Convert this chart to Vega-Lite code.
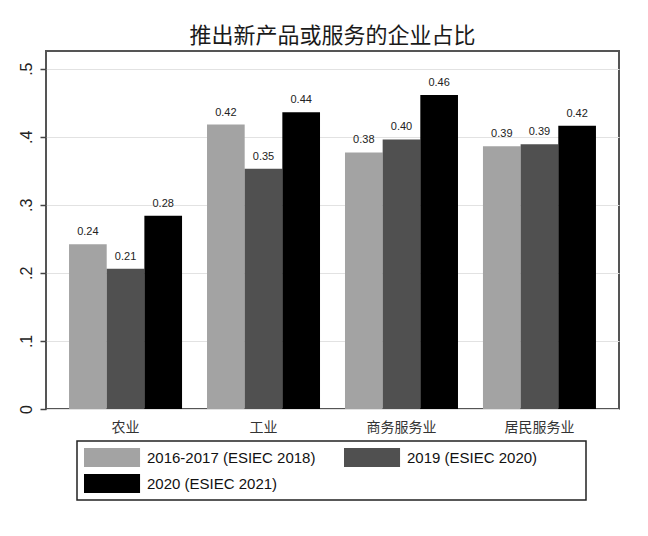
{
  "$schema": "https://vega.github.io/schema/vega-lite/v6.json",
  "autosize": {"type": "none"},
  "width": 573,
  "height": 358,
  "padding": {"left": 46, "top": 51, "right": 29, "bottom": 127},
  "background": "#ffffff",
  "title": {
    "text": "推出新产品或服务的企业占比",
    "font": "Noto Sans CJK SC",
    "fontSize": 22,
    "fontWeight": "normal",
    "color": "#1a1a1a",
    "anchor": "middle",
    "offset": 3
  },
  "config": {
    "view": {"stroke": "#555555", "strokeWidth": 2},
    "axis": {"domain": false},
    "legend": {"strokeWidth": 1.5}
  },
  "data": {
    "values": [
      {"sector": "农业", "s": "2016-2017 (ESIEC 2018)", "v": 0.242},
      {"sector": "农业", "s": "2019 (ESIEC 2020)", "v": 0.206},
      {"sector": "农业", "s": "2020 (ESIEC 2021)", "v": 0.284},
      {"sector": "工业", "s": "2016-2017 (ESIEC 2018)", "v": 0.418},
      {"sector": "工业", "s": "2019 (ESIEC 2020)", "v": 0.353},
      {"sector": "工业", "s": "2020 (ESIEC 2021)", "v": 0.436},
      {"sector": "商务服务业", "s": "2016-2017 (ESIEC 2018)", "v": 0.377},
      {"sector": "商务服务业", "s": "2019 (ESIEC 2020)", "v": 0.396},
      {"sector": "商务服务业", "s": "2020 (ESIEC 2021)", "v": 0.4615},
      {"sector": "居民服务业", "s": "2016-2017 (ESIEC 2018)", "v": 0.386},
      {"sector": "居民服务业", "s": "2019 (ESIEC 2020)", "v": 0.389},
      {"sector": "居民服务业", "s": "2020 (ESIEC 2021)", "v": 0.416}
    ]
  },
  "encoding": {
    "x": {
      "field": "sector",
      "type": "nominal",
      "sort": ["农业", "工业", "商务服务业", "居民服务业"],
      "scale": {"paddingInner": 0.181, "paddingOuter": 0.167},
      "axis": {
        "title": null,
        "labelAngle": 0,
        "ticks": false,
        "labelFont": "Noto Sans CJK SC",
        "labelFontSize": 14,
        "labelColor": "#333333",
        "labelPadding": 11
      }
    },
    "xOffset": {
      "field": "s",
      "type": "nominal",
      "scale": {"paddingInner": 0, "paddingOuter": 0}
    },
    "y": {
      "field": "v",
      "type": "quantitative",
      "scale": {"domain": [0, 0.526], "nice": false},
      "axis": {
        "title": null,
        "values": [0, 0.1, 0.2, 0.3, 0.4, 0.5],
        "labelExpr": "datum.value == 0 ? '0' : replace(format(datum.value, '.1f'), '0.', '.')",
        "labelAngle": -90,
        "labelAlign": "center",
        "labelBaseline": "bottom",
        "labelFont": "Liberation Sans",
        "labelFontSize": 16,
        "labelColor": "#222222",
        "labelPadding": 6,
        "tickSize": 6,
        "tickColor": "#444444",
        "tickWidth": 1.5,
        "grid": true,
        "gridColor": "#e2e2e2",
        "gridWidth": 1.2
      }
    }
  },
  "layer": [
    {
      "mark": {"type": "bar", "strokeWidth": 0},
      "encoding": {
        "color": {
          "field": "s",
          "type": "nominal",
          "scale": {
            "domain": ["2016-2017 (ESIEC 2018)", "2019 (ESIEC 2020)", "2020 (ESIEC 2021)"],
            "range": ["#a3a3a3", "#505050", "#000000"]
          },
          "legend": {
            "title": " ",
            "titleOrient": "right",
            "titlePadding": 42,
            "orient": "none",
            "legendX": 31,
            "legendY": 390,
            "direction": "horizontal",
            "columns": 2,
            "gridAlign": "all",
            "columnPadding": 28,
            "rowPadding": 7,
            "padding": 7,
            "strokeColor": "#222222",
            "symbolType": "M-1,-1H4.9V1H-1Z",
            "symbolSize": 361,
            "symbolStrokeWidth": 0,
            "symbolOpacity": 1,
            "labelFont": "Liberation Sans",
            "labelFontSize": 15,
            "labelColor": "#111111",
            "labelOffset": 44,
            "labelLimit": 400
          }
        }
      }
    },
    {
      "mark": {
        "type": "text",
        "baseline": "bottom",
        "dy": -7,
        "font": "Liberation Sans",
        "fontSize": 11,
        "color": "#222222"
      },
      "encoding": {
        "text": {"field": "v", "type": "quantitative", "format": ".2f"}
      }
    }
  ]
}
